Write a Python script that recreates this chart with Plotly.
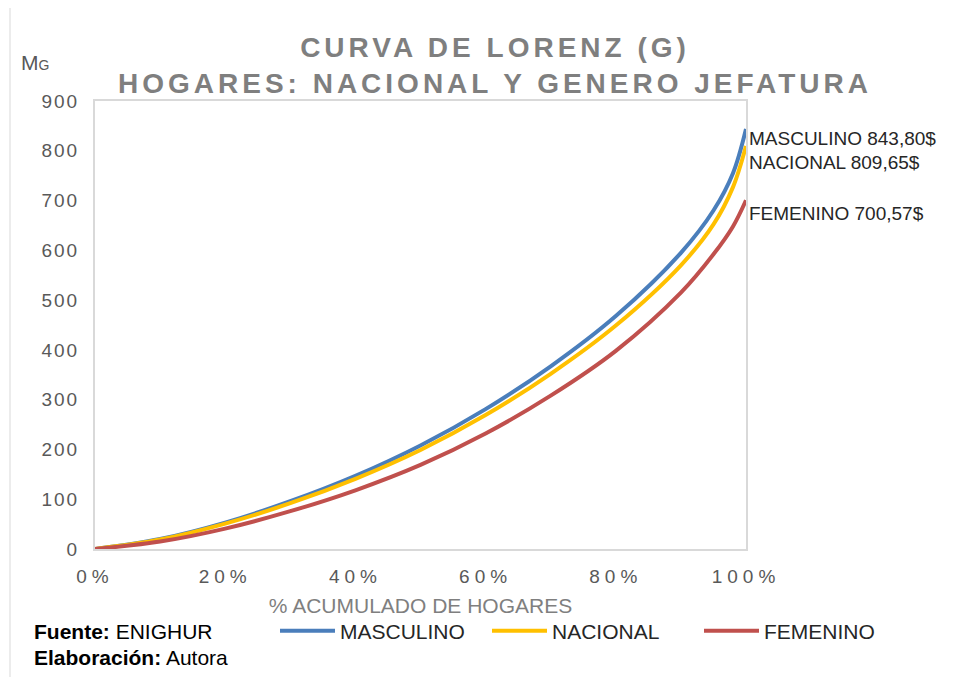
import plotly.graph_objects as go

# ---- data ----
pct = [0, 10, 20, 30, 40, 50, 60, 70, 80, 90, 95, 98, 100]
masculino = [0, 20, 53, 96, 147, 208, 281, 367, 468, 595, 680, 755, 843.80]
nacional = [0, 19, 51, 92, 141, 199, 269, 352, 449, 570, 652, 727, 809.65]
femenino = [0, 15, 41, 76, 118, 169, 232, 308, 398, 515, 592, 648, 700.57]

series_names = ["MASCULINO", "NACIONAL", "FEMENINO"]
series_values = [masculino, nacional, femenino]
end_labels = ["MASCULINO 843,80$", "NACIONAL 809,65$", "FEMENINO 700,57$"]
colors = ["#4a7ebb", "#ffc000", "#c0504d"]

x_tickvals = [0, 20, 40, 60, 80, 100]
x_ticktext = ["0%", "20%", "40%", "60%", "80%", "100%"]
y_tickvals = [0, 100, 200, 300, 400, 500, 600, 700, 800, 900]

FONT = "Liberation Sans, Arial, sans-serif"
W, H = 963, 669          # page has an 8px body margin
OFF = 8
PL, PR, PT, PB = 95, 746, 101, 549   # plot box in page pixels


def xp(px):
    return (px - PL) / (PR - PL)


def yp(py):
    return (PB - py) / (PB - PT)


def spaced(t, px):
    return f'<span style="letter-spacing:{px}px">{t}</span>'


fig = go.Figure()
for name, vals, col in zip(series_names, series_values, colors):
    fig.add_trace(go.Scatter(
        x=pct, y=vals, name=name, mode="lines",
        line=dict(color=col, width=4, shape="spline", smoothing=1.0),
        hoverinfo="skip"))

shifts = [-10, -17, -13]
for lab, vals, sh in zip(end_labels, series_values, shifts):
    fig.add_annotation(x=100, y=vals[-1], xref="x", yref="y", text=lab,
                       showarrow=False, xanchor="left", yanchor="middle",
                       xshift=1, yshift=sh,
                       font=dict(family=FONT, size=19, color="#262626"))

# Y axis unit label
fig.add_annotation(x=xp(19), y=yp(62), xref="paper", yref="paper",
                   text='M<span style="font-size:14px">G</span>', showarrow=False,
                   xanchor="left", yanchor="middle",
                   font=dict(family=FONT, size=21, color="#595959"))

# footer notes
fig.add_annotation(x=xp(32), y=yp(631), xref="paper", yref="paper",
                   text="<b>Fuente:</b> ENIGHUR", showarrow=False,
                   xanchor="left", yanchor="middle",
                   font=dict(family=FONT, size=21, color="#000000"))
fig.add_annotation(x=xp(32), y=yp(657), xref="paper", yref="paper",
                   text="<b>Elaboración:</b> Autora", showarrow=False,
                   xanchor="left", yanchor="middle",
                   font=dict(family=FONT, size=21, color="#000000"))

# outer left frame line
fig.add_shape(type="line", xref="paper", yref="paper",
              x0=xp(10), x1=xp(10), y0=yp(677), y1=yp(0),
              line=dict(color="#d9d9d9", width=1))

fig.update_layout(
    width=W, height=H,
    margin=dict(l=PL - OFF, r=W - (PR - OFF), t=PT - OFF, b=H - (PB - OFF)),
    paper_bgcolor="white", plot_bgcolor="white",
    title=dict(text=spaced("<b>CURVA DE LORENZ (G)</b>", 4) + "<br>" +
               spaced("<b>HOGARES: NACIONAL Y GENERO JEFATURA</b>", 4),
               x=(495 - OFF) / W, xanchor="center",
               y=1 - (57 - OFF) / H, yanchor="middle",
               font=dict(family=FONT, size=28, color="#7f7f7f")),
    xaxis=dict(range=[0, 100], tickvals=x_tickvals,
               ticktext=[spaced(t, 5) for t in x_ticktext],
               showgrid=False, zeroline=False, showline=True, mirror=True,
               linecolor="#d9d9d9", linewidth=2, ticks="", automargin=False,
               ticklabelstandoff=9,
               tickfont=dict(family=FONT, size=19, color="#595959"),
               title=dict(text="% ACUMULADO DE HOGARES", standoff=13,
                          font=dict(family=FONT, size=21, color="#7f7f7f"))),
    yaxis=dict(range=[0, 900], tickvals=y_tickvals,
               ticktext=[spaced(str(v), 2) for v in y_tickvals],
               showgrid=False, zeroline=False, showline=True, mirror=True,
               linecolor="#d9d9d9", linewidth=2, ticks="", automargin=False,
               ticklabelstandoff=10,
               tickfont=dict(family=FONT, size=19, color="#595959")),
    legend=dict(orientation="h", x=xp(275), y=yp(631),
                xanchor="left", yanchor="middle", itemwidth=55,
                entrywidth=142, entrywidthmode="pixels",
                font=dict(family=FONT, size=21, color="#262626"),
                bgcolor="rgba(0,0,0,0)", traceorder="normal"),
    showlegend=True,
)

fig.write_html("out.html")
